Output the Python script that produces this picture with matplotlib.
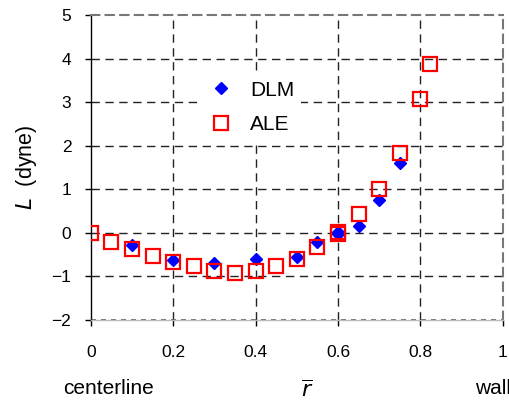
import matplotlib.pyplot as plt

plt.rcParams['font.family'] = ['Liberation Sans', 'DejaVu Sans']

# lift force vs radial position
r_ale = [0.0, 0.05, 0.1, 0.15, 0.2, 0.25, 0.3, 0.35, 0.4, 0.45, 0.5, 0.55, 0.6, 0.6, 0.65, 0.7, 0.75, 0.8, 0.822]
L_ale = [0.0, -0.21, -0.36, -0.54, -0.67, -0.77, -0.88, -0.93, -0.88, -0.75, -0.60, -0.32, 0.02, -0.02, 0.44, 1.0, 1.83, 3.06, 3.87]

r_dlm = [0.1, 0.2, 0.3, 0.4, 0.5, 0.55, 0.6, 0.6, 0.65, 0.7, 0.75]
L_dlm = [-0.27, -0.63, -0.69, -0.59, -0.55, -0.22, 0.02, -0.03, 0.16, 0.75, 1.60]

xticks = [0, 0.2, 0.4, 0.6, 0.8, 1]
xlabels = ['0', '0.2', '0.4', '0.6', '0.8', '1']
yticks = [-2, -1, 0, 1, 2, 3, 4, 5]

fig = plt.figure(figsize=(5.1, 4.04), dpi=100)
ax = fig.add_axes([0.178, 0.208, 0.808, 0.755])

ax.plot(r_dlm, L_dlm, 'D', color='#0000ff', markersize=6, zorder=3, label='DLM')
ax.plot(r_ale, L_ale, 's', mfc='none', mec='#ff0000', mew=1.6, markersize=10, zorder=4, label='ALE')

ax.set_xlim(0, 1)
ax.set_ylim(-2, 5)
ax.set_xticks(xticks)
ax.set_xticklabels(xlabels)
ax.set_yticks(yticks)

# dashed grid
for x in xticks[1:-1]:
    ax.axvline(x, color='#222222', lw=1, ls=(0, (6, 4)), zorder=1)
for y in yticks[1:-1]:
    ax.axhline(y, color='#222222', lw=1, ls=(0, (6, 4)), zorder=1)
ax.axhline(-2, color='#555555', lw=1.2, ls=(0, (3, 3)), zorder=1, clip_on=False)

ax.spines['left'].set_color('black')
ax.spines['left'].set_linewidth(1)
ax.spines['bottom'].set_color('#bbbbbb')
ax.spines['bottom'].set_linewidth(1)
for s in ['top', 'right']:
    ax.spines[s].set_color('#777777')
    ax.spines[s].set_linewidth(1.5)
    ax.spines[s].set_linestyle((0, (4, 3)))

ax.tick_params(axis='both', direction='out', length=4, width=1, color='black', labelsize=12.5)
ax.tick_params(axis='x', pad=14)
ax.tick_params(axis='y', pad=10)

ax.set_ylabel(r'$L$  (dyne)', fontsize=15.5, labelpad=9)

fig.text(63 / 510, 1 - 388 / 404, 'centerline', fontsize=15, va='center', ha='left')
fig.text(307 / 510, 1 - 391 / 404, r'$\overline{r}$', fontsize=16, va='center', ha='center',
         family='DejaVu Serif')
fig.text(511 / 510, 1 - 388 / 404, 'wall', fontsize=15, va='center', ha='right')

leg = ax.legend(loc='upper left', bbox_to_anchor=(192 / 510, 1 - 64 / 404),
                bbox_transform=fig.transFigure, frameon=True, fontsize=15,
                handletextpad=0.8, labelspacing=0.75, borderpad=0.3, handlelength=1.2)
leg.get_frame().set_facecolor('white')
leg.get_frame().set_edgecolor('none')
leg.get_frame().set_alpha(1)
leg.set_zorder(2)

plt.savefig('out.png', dpi=100)
